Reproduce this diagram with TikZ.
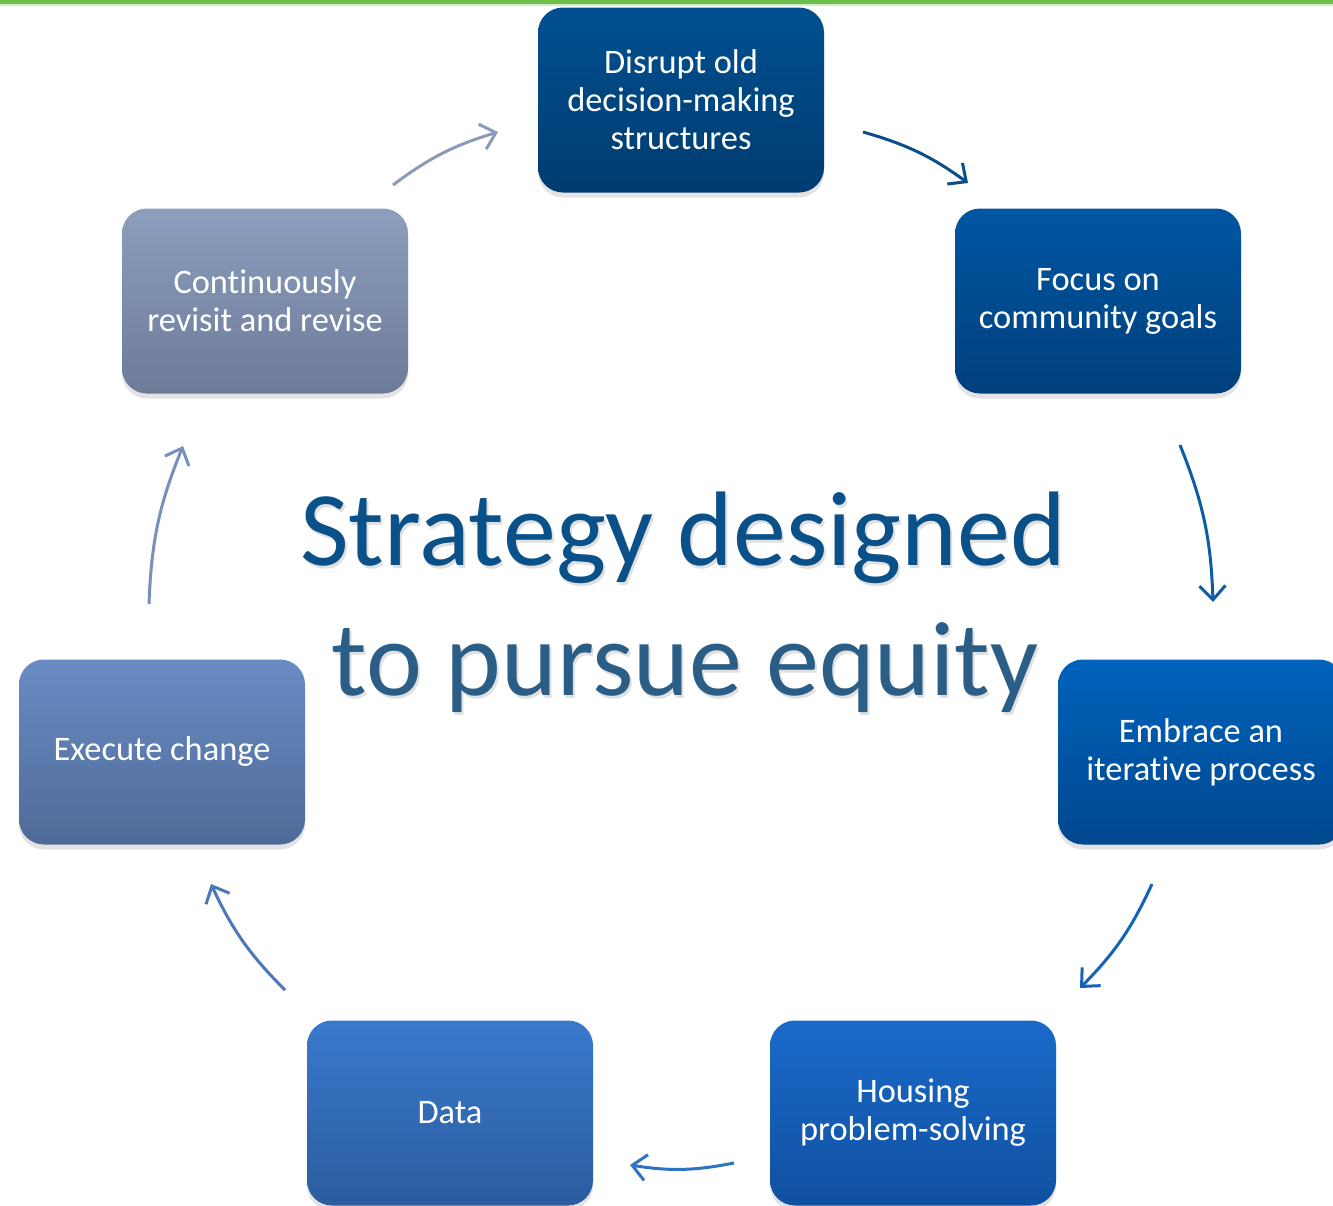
\documentclass[tikz,border=0pt]{standalone}
\usepackage{fontspec}
\setmainfont{Carlito}[Ligatures=NoCommon]
\usetikzlibrary{arrows.meta,shadows}
\definecolor{greenline}{HTML}{6CC04A}
\definecolor{titleA}{HTML}{0A5089}
\definecolor{titleB}{HTML}{2B5E86}
\tikzset{
  stage/.style={rounded corners=12.5pt, minimum width=143pt, minimum height=92.5pt,
    align=center, text=white, font=\fontsize{17.2pt}{19pt}\selectfont,
    drop shadow={opacity=0.22, shadow xshift=0pt, shadow yshift=-2.5pt}},
  flow/.style={line width=1.5pt, -{Straight Barb[length=7pt,width=13pt,line width=1.5pt]}, bend left=10},
  titletext/.style={font=\fontsize{53pt}{65pt}\selectfont, inner sep=0pt, anchor=base}
}
\begin{document}
\begin{tikzpicture}[x=0.5pt,y=-0.5pt]
\useasboundingbox (0,0) rectangle (1333,1205);
\fill[white] (0,0) rectangle (1333,1205);
\fill[greenline] (0,0) rectangle (1333,4);
\fill[greenline!30] (0,4) rectangle (1333,6);

\node[stage, top color={rgb,255:red,0;green,80;blue,144}, bottom color={rgb,255:red,0;green,60;blue,112}] (disrupt) at (681,100) {Disrupt old\\decision-making\\structures};
\node[stage, top color={rgb,255:red,0;green,86;blue,163}, bottom color={rgb,255:red,0;green,64;blue,124}] (focus) at (1098,301) {Focus on\\community goals};
\node[stage, top color={rgb,255:red,0;green,98;blue,188}, bottom color={rgb,255:red,0;green,72;blue,142}] (embrace) at (1201,752) {Embrace an\\iterative process};
\node[stage, top color={rgb,255:red,26;green,106;blue,202}, bottom color={rgb,255:red,16;green,80;blue,160}] (housing) at (913,1113) {Housing\\problem-solving};
\node[stage, top color={rgb,255:red,57;green,121;blue,204}, bottom color={rgb,255:red,43;green,92;blue,158}] (data) at (450,1113) {Data};
\node[stage, top color={rgb,255:red,106;green,140;blue,196}, bottom color={rgb,255:red,78;green,106;blue,152}] (execute) at (162,752) {Execute change};
\node[stage, top color={rgb,255:red,141;green,158;blue,190}, bottom color={rgb,255:red,108;green,123;blue,152}] (revisit) at (265,301) {Continuously\\revisit and revise};

\node[titletext, text=black!20, opacity=0.6] (t1s) at (685,568) {Strategy designed};
\node[titletext, text=titleA] (t1) at (683,565) {Strategy designed};
\node[titletext, text=black!20, opacity=0.6] (t2s) at (687,698) {to pursue equity};
\node[titletext, text=titleB] (t2) at (685,695) {to pursue equity};

\coordinate (a1s) at (393,185); \coordinate (a1e) at (498,132);
\coordinate (a2s) at (863,132); \coordinate (a2e) at (968,183);
\coordinate (a3s) at (1180,445); \coordinate (a3e) at (1213,602);
\coordinate (a4s) at (1152,884); \coordinate (a4e) at (1080,988);
\coordinate (a5s) at (734,1163); \coordinate (a5e) at (630,1165);
\coordinate (a6s) at (285,990); \coordinate (a6e) at (211,884);
\coordinate (a7s) at (149,604); \coordinate (a7e) at (183,446);

\draw[flow, color={rgb,255:red,138;green,156;blue,186}] (a1s) to (a1e);
\draw[flow, color={rgb,255:red,10;green,79;blue,140}] (a2s) to (a2e);
\draw[flow, color={rgb,255:red,14;green,92;blue,168}] (a3s) to (a3e);
\draw[flow, color={rgb,255:red,21;green,99;blue,184}] (a4s) to (a4e);
\draw[flow, color={rgb,255:red,46;green,116;blue,196}] (a5s) to (a5e);
\draw[flow, color={rgb,255:red,74;green,120;blue,186}] (a6s) to (a6e);
\draw[flow, color={rgb,255:red,120;green,144;blue,187}] (a7s) to (a7e);
\end{tikzpicture}
\end{document}
